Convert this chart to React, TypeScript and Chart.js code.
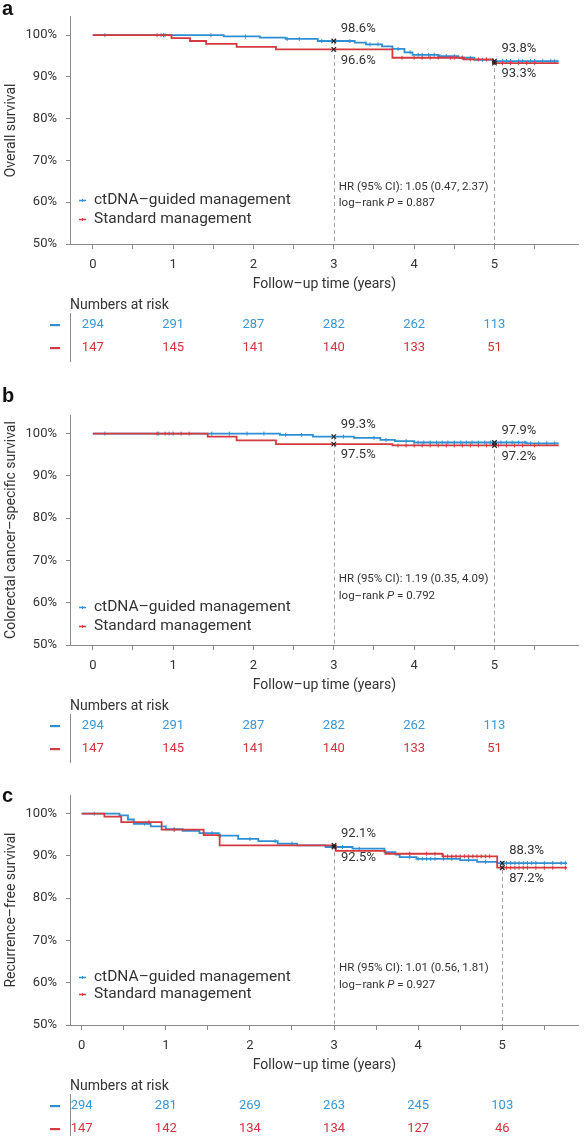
import React, { useEffect, useRef } from 'react'
import { Chart, registerables } from 'chart.js'

Chart.register(...registerables)

const FONT = 'Roboto, "Liberation Sans", Arial, sans-serif'
const BLUE = '#2f8fd3'
const RED = '#d43a3f'
const BLUE_TEXT = '#3a98d8'
const RED_TEXT = '#d0363c'
const TEXT = '#333333'
const AXIS = '#8a8a8a'

// shared axis values
const X_TICKS = [0, 0.5, 1, 1.5, 2, 2.5, 3, 3.5, 4, 4.5, 5, 5.5]
const Y_TICKS = [50, 60, 70, 80, 90, 100]
const LANDMARK_YEARS = [3, 5]
const RISK_YEARS = [0, 1, 2, 3, 4, 5]
const GROUPS = ['ctDNA–guided management', 'Standard management']

// a: overall survival
const OS_BLUE_T = [0, 1.63, 2.08, 2.4, 2.8, 3.26, 3.4, 3.6, 3.73, 3.88, 3.98, 4.3, 4.55, 4.75, 4.98, 5.8]
const OS_BLUE_S = [100, 99.7, 99.4, 99.1, 98.6, 98.2, 97.8, 97.3, 96.7, 95.9, 95.3, 95.0, 94.6, 94.1, 93.8, 93.8]
const OS_BLUE_CENSOR = [0.15, 0.85, 0.9, 1.47, 1.9, 2.42, 2.57, 2.85, 3.2, 3.45, 3.55, 3.8, 3.95, 4.05, 4.1, 4.18, 4.25, 4.32, 4.4, 4.5, 4.6, 4.7, 4.85, 5.1, 5.15, 5.2, 5.3, 5.35, 5.45, 5.5, 5.6, 5.7, 5.75]
const OS_RED_T = [0, 0.98, 1.21, 1.41, 1.79, 2.28, 3.73, 4.62, 4.98, 5.8]
const OS_RED_S = [100, 99.3, 98.6, 97.9, 97.2, 96.6, 94.6, 94.2, 93.3, 93.3]
const OS_RED_CENSOR = [0.8, 0.88, 3.85, 4.0, 4.1, 4.2, 4.3, 4.45, 4.5, 4.6, 4.7, 4.8, 4.9, 5.1, 5.2, 5.3, 5.4, 5.5]
const OS_BLUE_LANDMARK = [98.6, 93.8]
const OS_RED_LANDMARK = [96.6, 93.3]
const OS_RISK_BLUE = [294, 291, 287, 282, 262, 113]
const OS_RISK_RED = [147, 145, 141, 140, 133, 51]

// b: colorectal cancer-specific survival
const CSS_BLUE_T = [0, 2.33, 2.74, 3.25, 3.58, 3.76, 4.0, 5.4, 5.8]
const CSS_BLUE_S = [100, 99.7, 99.3, 99.0, 98.5, 98.2, 97.9, 97.7, 97.7]
const CSS_BLUE_CENSOR = [0.15, 0.82, 0.95, 1.48, 1.7, 1.92, 2.13, 2.4, 2.6, 3.12, 3.5, 3.65, 3.9, 4.05, 4.12, 4.2, 4.28, 4.35, 4.42, 4.5, 4.58, 4.65, 4.72, 4.8, 4.88, 4.95, 5.08, 5.15, 5.22, 5.3, 5.38, 5.45, 5.55, 5.65, 5.75]
const CSS_RED_T = [0, 1.43, 1.79, 2.28, 3.73, 5.8]
const CSS_RED_S = [100, 99.3, 98.4, 97.5, 97.2, 97.2]
const CSS_RED_CENSOR = [0.8, 0.9, 1.0, 1.1, 1.2, 3.8, 3.9, 4.0, 4.1, 4.2, 4.3, 4.4, 4.5, 4.6, 4.7, 4.8, 4.9, 5.05, 5.15, 5.25, 5.35, 5.5]
const CSS_BLUE_LANDMARK = [99.3, 97.9]
const CSS_RED_LANDMARK = [97.5, 97.2]
const CSS_RISK_BLUE = [294, 291, 287, 282, 262, 113]
const CSS_RISK_RED = [147, 145, 141, 140, 133, 51]

// c: recurrence-free survival
const RFS_BLUE_T = [0, 0.45, 0.55, 0.62, 0.82, 1.0, 1.2, 1.4, 1.63, 1.86, 2.1, 2.33, 2.56, 2.9, 3.22, 3.6, 3.73, 3.78, 3.98, 4.5, 4.7, 4.94, 5.77]
const RFS_BLUE_S = [100, 99.6, 98.6, 97.6, 97.0, 96.3, 95.9, 95.4, 94.8, 94.0, 93.5, 92.9, 92.5, 92.1, 91.7, 90.9, 90.3, 89.7, 89.3, 89.0, 88.6, 88.3, 88.3]
const RFS_BLUE_CENSOR = [0.15, 0.75, 1.1, 1.55, 1.65, 2.0, 2.3, 2.5, 3.1, 3.3, 3.9, 4.0, 4.05, 4.1, 4.15, 4.2, 4.3, 4.4, 4.6, 4.8, 5.0, 5.05, 5.1, 5.15, 5.2, 5.25, 5.3, 5.35, 5.4, 5.5, 5.6, 5.7, 5.75]
const RFS_RED_T = [0, 0.27, 0.47, 0.95, 1.45, 1.64, 3.02, 3.61, 4.29, 4.94, 5.77]
const RFS_RED_S = [100, 99.3, 98.0, 96.2, 94.9, 92.5, 91.2, 90.5, 89.9, 87.2, 87.2]
const RFS_RED_CENSOR = [0.8, 1.1, 3.9, 4.1, 4.2, 4.3, 4.35, 4.4, 4.45, 4.5, 4.55, 4.6, 4.65, 4.7, 4.75, 4.8, 4.85, 5.05, 5.1, 5.15, 5.2, 5.25, 5.3, 5.4, 5.5, 5.6, 5.75]
const RFS_BLUE_LANDMARK = [92.1, 88.3]
const RFS_RED_LANDMARK = [92.5, 87.2]
const RFS_RISK_BLUE = [294, 281, 269, 263, 245, 103]
const RFS_RISK_RED = [147, 142, 134, 134, 127, 46]

interface PanelDef {
	letter: string
	yTitle: string
	top: number
	height: number
	areaTop: number
	areaBottom: number
	xMin: number
	xMax: number
	letterY: number
	legendAt: number[]
	hrAt: number[]
	blueT: number[]
	blueS: number[]
	blueCensor: number[]
	redT: number[]
	redS: number[]
	redCensor: number[]
	blueLandmark: number[]
	redLandmark: number[]
	riskBlue: number[]
	riskRed: number[]
	hr: string
	p: string
}

const PANELS: PanelDef[] = [
	{
		letter: 'a', yTitle: 'Overall survival', top: 0, height: 372, areaTop: 14, areaBottom: 244,
		xMin: -0.284, xMax: 6.05, letterY: 15, legendAt: [60.6, 56.1], hrAt: [63.5, 59.9],
		blueT: OS_BLUE_T, blueS: OS_BLUE_S, blueCensor: OS_BLUE_CENSOR,
		redT: OS_RED_T, redS: OS_RED_S, redCensor: OS_RED_CENSOR,
		blueLandmark: OS_BLUE_LANDMARK, redLandmark: OS_RED_LANDMARK,
		riskBlue: OS_RISK_BLUE, riskRed: OS_RISK_RED, hr: '1.05 (0.47, 2.37)', p: '0.887',
	},
	{
		letter: 'b', yTitle: 'Colorectal cancer–specific survival', top: 372, height: 400, areaTop: 43, areaBottom: 273,
		xMin: -0.284, xMax: 6.05, letterY: 30, legendAt: [59.0, 54.5], hrAt: [65.6, 61.6],
		blueT: CSS_BLUE_T, blueS: CSS_BLUE_S, blueCensor: CSS_BLUE_CENSOR,
		redT: CSS_RED_T, redS: CSS_RED_S, redCensor: CSS_RED_CENSOR,
		blueLandmark: CSS_BLUE_LANDMARK, redLandmark: CSS_RED_LANDMARK,
		riskBlue: CSS_RISK_BLUE, riskRed: CSS_RISK_RED, hr: '1.19 (0.35, 4.09)', p: '0.792',
	},
	{
		letter: 'c', yTitle: 'Recurrence–free survival', top: 772, height: 364, areaTop: 23, areaBottom: 253,
		xMin: -0.139, xMax: 5.91, letterY: 30, legendAt: [61.3, 57.3], hrAt: [63.5, 59.5],
		blueT: RFS_BLUE_T, blueS: RFS_BLUE_S, blueCensor: RFS_BLUE_CENSOR,
		redT: RFS_RED_T, redS: RFS_RED_S, redCensor: RFS_RED_CENSOR,
		blueLandmark: RFS_BLUE_LANDMARK, redLandmark: RFS_RED_LANDMARK,
		riskBlue: RFS_RISK_BLUE, riskRed: RFS_RISK_RED, hr: '1.01 (0.56, 1.81)', p: '0.927',
	},
]

const stepAt = (ts: number[], ss: number[], t: number) => {
	let v = ss[0]
	for (let i = 0; i < ts.length; i++) if (ts[i] <= t) v = ss[i]
	return v
}

const WIDTH = 584
const X_AXIS_BOX = 40

const KMPanel: React.FC<{ def: PanelDef }> = ({ def }) => {
	const canvasRef = useRef<HTMLCanvasElement>(null)

	useEffect(() => {
		if (!canvasRef.current) return
		const ctx = canvasRef.current.getContext('2d')
		if (!ctx) return

		const decor = {
			id: 'kmDecor',
			beforeDatasetsDraw(chart: any) {
				const c = chart.ctx
				const xs = chart.scales.x
				const ys = chart.scales.y
				const area = chart.chartArea
				c.save()
				c.strokeStyle = '#a0a0a0'
				c.lineWidth = 1
				c.setLineDash([4, 3])
				LANDMARK_YEARS.forEach((t, i) => {
					const x = Math.round(xs.getPixelForValue(t)) + 0.5
					const yTop = ys.getPixelForValue(Math.max(def.blueLandmark[i], def.redLandmark[i]))
					c.beginPath()
					c.moveTo(x, yTop)
					c.lineTo(x, area.bottom)
					c.stroke()
				})
				c.restore()
			},
			afterDraw(chart: any) {
				const c = chart.ctx
				const xs = chart.scales.x
				const ys = chart.scales.y
				const area = chart.chartArea
				c.save()
				c.fillStyle = '#111'
				c.font = 'bold 20px "Liberation Sans", Arial, sans-serif'
				c.textAlign = 'left'
				c.textBaseline = 'alphabetic'
				c.fillText(def.letter, 2, def.letterY)

				// y title
				c.fillStyle = TEXT
				c.save()
				c.translate(11, (area.top + area.bottom) / 2)
				c.rotate(-Math.PI / 2)
				c.font = `14px ${FONT}`
				c.textAlign = 'center'
				c.textBaseline = 'middle'
				c.fillText(def.yTitle, 0, 0)
				c.restore()

				// landmark labels
				c.font = `13px ${FONT}`
				c.textAlign = 'left'
				c.textBaseline = 'middle'
				LANDMARK_YEARS.forEach((t, i) => {
					const x = xs.getPixelForValue(t) + 7
					const hi = ys.getPixelForValue(Math.max(def.blueLandmark[i], def.redLandmark[i]))
					const lo = ys.getPixelForValue(Math.min(def.blueLandmark[i], def.redLandmark[i]))
					c.fillText(def.blueLandmark[i].toFixed(1) + '%', x, hi - 12)
					c.fillText(def.redLandmark[i].toFixed(1) + '%', x, lo + 11)
				})

				// HR text
				const hx = xs.getPixelForValue(3) + 5
				c.font = `11.5px ${FONT}`
				c.fillText('HR (95% CI): ' + def.hr, hx, ys.getPixelForValue(def.hrAt[0]))
				const py = ys.getPixelForValue(def.hrAt[1])
				let px = hx
				c.fillText('log–rank ', px, py)
				px += c.measureText('log–rank ').width
				c.font = `italic 11.5px ${FONT}`
				c.fillText('P', px, py)
				px += c.measureText('P').width
				c.font = `11.5px ${FONT}`
				c.fillText(' = ' + def.p, px, py)

				// legend
				c.font = `15.5px ${FONT}`
				;[BLUE, RED].forEach((col, i) => {
					const y = Math.round(ys.getPixelForValue(def.legendAt[i]))
					c.strokeStyle = col
					c.lineWidth = 1.5
					c.beginPath()
					c.moveTo(79, y + 0.5)
					c.lineTo(86, y + 0.5)
					c.stroke()
					c.lineWidth = 1
					c.beginPath()
					c.moveTo(82.5, y - 1)
					c.lineTo(82.5, y + 2)
					c.stroke()
					c.fillStyle = TEXT
					c.fillText(GROUPS[i], 94, y)
				})

				// x title
				c.font = `14px ${FONT}`
				c.textAlign = 'center'
				c.fillText('Follow–up time (years)', (area.left + area.right) / 2, area.bottom + 40)

				// numbers at risk
				c.textAlign = 'left'
				c.fillText('Numbers at risk', area.left, area.bottom + 61)
				c.strokeStyle = AXIS
				c.lineWidth = 1
				c.beginPath()
				c.moveTo(area.left + 0.5, area.bottom + 69)
				c.lineTo(area.left + 0.5, area.bottom + 118)
				c.stroke()
				c.font = `13px ${FONT}`
				c.textAlign = 'center'
				const rows = [
					{ vals: def.riskBlue, col: BLUE_TEXT, mark: BLUE, dy: 81 },
					{ vals: def.riskRed, col: RED_TEXT, mark: RED, dy: 104 },
				]
				rows.forEach((r) => {
					const y = area.bottom + r.dy
					c.fillStyle = r.mark
					c.fillRect(50, y - 1, 10, 2.2)
					c.fillStyle = r.col
					RISK_YEARS.forEach((t, i) => {
						c.fillText(String(r.vals[i]), xs.getPixelForValue(t), y)
					})
				})
				c.restore()
			},
		}

		const line = (ts: number[], ss: number[], col: string) => ({
			data: ts.map((t, i) => ({ x: t, y: ss[i] })),
			borderColor: col,
			borderWidth: 1.8,
			stepped: 'before' as const,
			pointRadius: 0,
			fill: false,
		})
		const censor = (cs: number[], ts: number[], ss: number[], col: string) => ({
			data: cs.map((t) => ({ x: t, y: stepAt(ts, ss, t) })),
			showLine: false,
			pointStyle: 'line' as const,
			rotation: 90,
			pointRadius: 2,
			pointBorderColor: col,
			pointBorderWidth: 1,
			borderColor: col,
		})
		const marks = {
			data: LANDMARK_YEARS.flatMap((t, i) => [
				{ x: t, y: def.blueLandmark[i] },
				{ x: t, y: def.redLandmark[i] },
			]),
			showLine: false,
			pointStyle: 'crossRot' as const,
			pointRadius: 3.2,
			pointBorderColor: '#222',
			pointBorderWidth: 1.2,
			borderColor: '#222',
		}

		const chart = new Chart(ctx, {
			type: 'line',
			data: {
				datasets: [
					marks,
					censor(def.redCensor, def.redT, def.redS, RED),
					line(def.redT, def.redS, RED),
					censor(def.blueCensor, def.blueT, def.blueS, BLUE),
					line(def.blueT, def.blueS, BLUE),
				] as any,
			},
			options: {
				animation: false,
				responsive: false,
				maintainAspectRatio: false,
				events: [],
				layout: {
					padding: {
						top: def.areaTop,
						left: 0,
						right: 1,
						bottom: def.height - def.areaBottom - X_AXIS_BOX,
					},
				},
				plugins: { legend: { display: false }, tooltip: { enabled: false } },
				scales: {
					x: {
						type: 'linear',
						min: def.xMin,
						max: def.xMax,
						afterBuildTicks: (scale: any) => {
							scale.ticks = X_TICKS.map((v) => ({ value: v }))
						},
						afterFit: (scale: any) => {
							scale.height = X_AXIS_BOX
						},
						ticks: {
							autoSkip: false,
							maxRotation: 0,
							padding: 8,
							color: TEXT,
							font: { family: FONT, size: 13 },
							callback: (v: any) => (Number.isInteger(v) ? String(v) : ''),
						},
						grid: { drawOnChartArea: false, tickLength: 5, color: AXIS },
						border: { color: AXIS, width: 1 },
					},
					y: {
						type: 'linear',
						min: 50,
						max: 104.4,
						afterBuildTicks: (scale: any) => {
							scale.ticks = Y_TICKS.map((v) => ({ value: v }))
						},
						afterFit: (scale: any) => {
							scale.width = 70
						},
						ticks: {
							padding: 9,
							color: TEXT,
							font: { family: FONT, size: 13 },
							callback: (v: any) => v + '%',
						},
						grid: { drawOnChartArea: false, tickLength: 4, color: AXIS },
						border: { color: AXIS, width: 1 },
					},
				},
			},
			plugins: [decor],
		})

		return () => {
			chart.destroy()
		}
	}, [def])

	return (
		<canvas
			ref={canvasRef}
			width={WIDTH}
			height={def.height}
			style={{ position: 'absolute', left: 0, top: def.top, width: WIDTH, height: def.height }}
		/>
	)
}

const App: React.FC = () => {
	return (
		<div style={{ position: 'absolute', left: 0, top: 0, width: WIDTH, height: 1136, background: '#fff' }}>
			{PANELS.map((p) => (
				<KMPanel key={p.letter} def={p} />
			))}
		</div>
	)
}

export default App
